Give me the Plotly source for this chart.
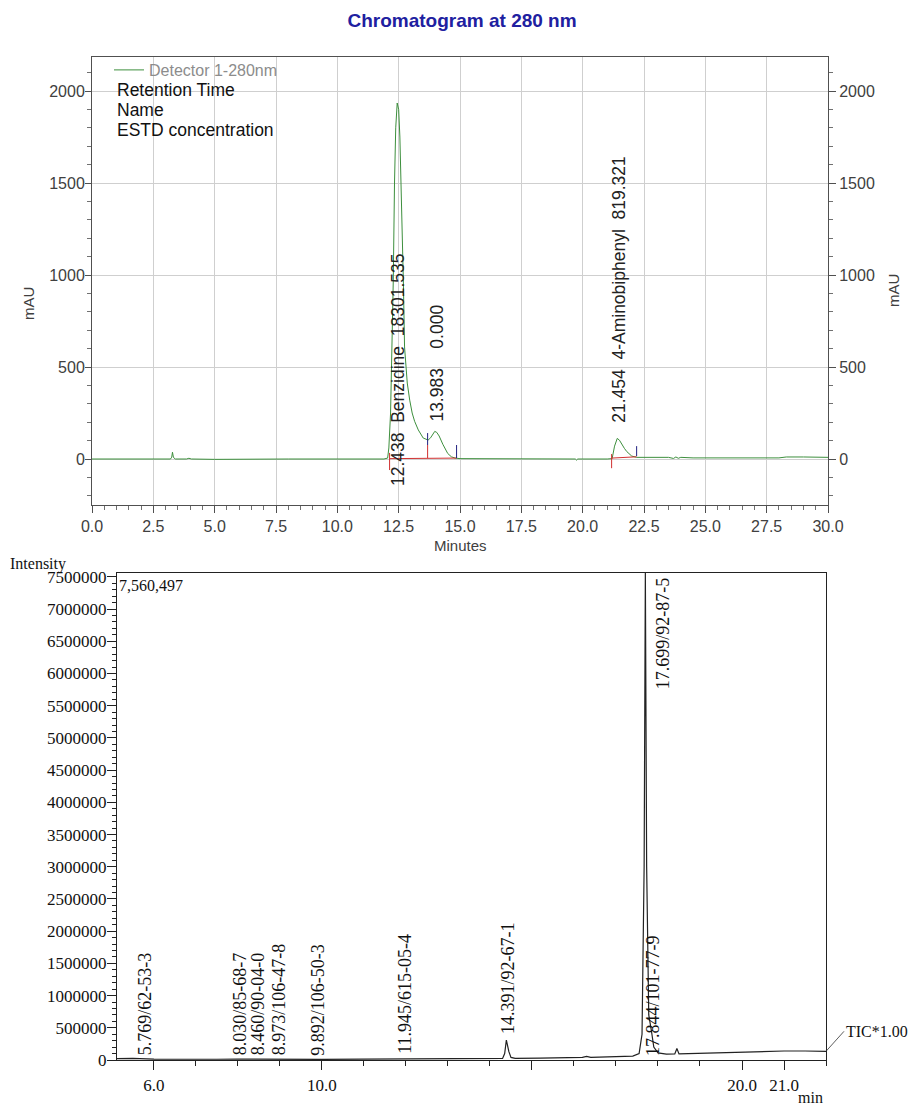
import plotly.graph_objects as go

# ---------------- DATA ----------------
# Top: HPLC chromatogram, Detector 1 at 280 nm (minutes, mAU)
uv_time = [0.0, 1.0, 1.1, 1.25, 1.45, 1.6, 2.35, 2.45, 2.55, 3.2, 3.25, 3.28, 3.32, 3.4, 3.85,
           3.95, 4.05, 5.0, 8.0, 10.0, 11.9, 12.05, 12.1, 12.17, 12.22, 12.28, 12.33, 12.38,
           12.44, 12.5, 12.55, 12.6, 12.65, 12.69, 12.74, 12.8, 12.85, 12.95, 13.05, 13.15,
           13.3, 13.5, 13.7, 13.8, 13.9, 13.97, 14.05, 14.15, 14.3, 14.4, 14.5, 14.65, 14.8,
           15.0, 17.0, 19.7, 19.75, 19.8, 21.0, 21.2, 21.3, 21.41, 21.5, 21.6, 21.7, 21.8,
           21.9, 22.0, 22.2, 23.5, 23.7, 23.8, 23.9, 24.0, 24.5, 26.3, 26.4, 26.5, 28.0, 28.3,
           28.7, 29.0, 30.0]
uv_mau = [0, 0, 3, 4, 3, 0, 0, 4, 0, 0, 10, 37, 8, 0, 0,
          4, 0, -2, 0, 0, 0, 5, 60, 250, 550, 970, 1500, 1800,
          1935, 1900, 1750, 1516, 1200, 973, 609, 500, 413, 320, 250, 205,
          158, 114, 103, 115, 138, 150, 145, 125, 80, 52, 30, 12, 5,
          2, 1, 0, -6, 0, 0, 2, 70, 112, 102, 78, 58, 40,
          26, 16, 9, 9, 3, 11, 4, 9, 6, 6, 2, 6, 6, 11,
          13, 11, 9]

# integration marks (minutes, mAU from, mAU to)
red_tick_x = [12.13, 13.68, 21.18]
red_tick_lo = [-60, 5, -50]
red_tick_hi = [33, 76, 27]
blue_tick_x = [13.68, 14.86, 22.2]
blue_tick_lo = [76, 5, 16]
blue_tick_hi = [141, 76, 70]
baseline_x = [[12.13, 14.86], [21.18, 22.2]]
baseline_y = [[2, 5], [5, 12]]

uv_peak_rt = [12.438, 13.983, 21.454]
uv_peak_text = ["12.438\u00a0\u00a0Benzidine\u00a0\u00a018301.535",
                "13.983\u00a0\u00a0\u00a0\u00a00.000",
                "21.454\u00a0\u00a04-Aminobiphenyl\u00a0\u00a0819.321"]
uv_label_base = [-160, 190, 185]

# Bottom: GC-MS total ion chromatogram (min, intensity)
tic_time = [5.12, 5.5, 6.0, 6.5, 7.0, 7.5, 8.0, 8.5, 9.0, 9.5, 10.0, 11.0, 12.0, 13.0, 14.3,
            14.35, 14.39, 14.45, 14.5, 14.6, 15.0, 15.1, 15.2, 16.2, 16.3, 16.4, 17.4, 17.55,
            17.62, 17.67, 17.699, 17.73, 17.78, 17.844, 17.9, 18.0, 18.2, 18.4, 18.45, 18.5,
            19.0, 20.0, 21.0, 21.5, 22.0]
tic_int = [22000, 25000, 15000, 12000, 10000, 12000, 15000, 12000, 10000, 10000, 10000, 15000,
           20000, 22000, 25000, 100000, 310000, 130000, 40000, 25000, 30000, 40000, 30000,
           40000, 55000, 40000, 60000, 100000, 400000, 3000000, 7560497, 3000000, 700000,
           450000, 200000, 110000, 90000, 95000, 180000, 95000, 105000, 125000, 140000,
           140000, 135000]

ms_rt = [5.769, 8.030, 8.460, 8.973, 9.892, 11.945, 14.391, 17.844]
ms_text = ["5.769/62-53-3", "8.030/85-68-7", "8.460/90-04-0", "8.973/106-47-8",
           "9.892/106-50-3", "11.945/615-05-4", "14.391/92-67-1", "17.844/101-77-9"]
ms_label_base = [40000, 40000, 40000, 40000, 40000, 60000, 380000, 30000]
top_peak_rt = 17.699
top_peak_text = "17.699/92-87-5"
tic_max = 7560497

uv_xticks = [0.0, 2.5, 5.0, 7.5, 10.0, 12.5, 15.0, 17.5, 20.0, 22.5, 25.0, 27.5, 30.0]
uv_yticks = [0, 500, 1000, 1500, 2000]
ms_xticks = [6, 10, 15, 20, 21]
ms_xticktext = ["6.0", "10.0", "", "20.0", "21.0"]
ms_yticks = [0, 500000, 1000000, 1500000, 2000000, 2500000, 3000000, 3500000, 4000000,
             4500000, 5000000, 5500000, 6000000, 6500000, 7000000, 7500000]

# ---------------- FIGURE ----------------
W, H = 915, 1105
SANS = "Arial, Liberation Sans, sans-serif"
SERIF = "Times New Roman, Liberation Serif, serif"

fig = go.Figure()

fig.add_trace(go.Scatter(x=uv_time, y=uv_mau, mode="lines", name="Detector 1-280nm",
                         line=dict(color="#3d8f3d", width=1), xaxis="x", yaxis="y",
                         showlegend=True))
# invisible copy to realise the right-hand axis
fig.add_trace(go.Scatter(x=uv_time, y=uv_mau, mode="lines", opacity=0, showlegend=False,
                         hoverinfo="skip", xaxis="x", yaxis="y2"))

rx, ry = [], []
for x, lo, hi in zip(red_tick_x, red_tick_lo, red_tick_hi):
    rx += [x, x, None]
    ry += [lo, hi, None]
for xs, ys in zip(baseline_x, baseline_y):
    rx += xs + [None]
    ry += ys + [None]
fig.add_trace(go.Scatter(x=rx, y=ry, mode="lines", line=dict(color="#d03030", width=1),
                         showlegend=False, hoverinfo="skip", xaxis="x", yaxis="y"))
bx, by = [], []
for x, lo, hi in zip(blue_tick_x, blue_tick_lo, blue_tick_hi):
    bx += [x, x, None]
    by += [lo, hi, None]
fig.add_trace(go.Scatter(x=bx, y=by, mode="lines", line=dict(color="#202080", width=1),
                         showlegend=False, hoverinfo="skip", xaxis="x", yaxis="y"))

fig.add_trace(go.Scatter(x=tic_time, y=tic_int, mode="lines", showlegend=False,
                         line=dict(color="#222222", width=1.2), xaxis="x2", yaxis="y3"))

def px_x(p):
    return p / W

def px_y(p):
    return 1 - p / H

top_x_dom = [px_x(92), px_x(828)]
top_y_dom = [px_y(505), px_y(57)]
bot_x_dom = [px_x(117), px_x(826)]
bot_y_dom = [px_y(1060), px_y(573)]

axis_font_top = dict(family=SANS, size=16, color="#404040")
axis_font_bot = dict(family=SERIF, size=17, color="#111111")

fig.update_layout(
    width=W, height=H,
    margin=dict(l=0, r=0, t=0, b=0),
    paper_bgcolor="white", plot_bgcolor="white",
    title=dict(text="<b>Chromatogram at 280 nm</b>", x=0.505, xanchor="center",
               y=px_y(20), yanchor="middle",
               font=dict(family=SANS, size=19, color="#2020a0")),
    showlegend=True,
    legend=dict(x=px_x(109), y=px_y(53), xanchor="left", yanchor="top",
                bgcolor="rgba(0,0,0,0)", itemwidth=30,
                font=dict(family=SANS, size=16, color="#8c8c8c")),
    xaxis=dict(domain=top_x_dom, anchor="y", range=[0, 30], tickvals=uv_xticks,
               tickformat=".1f", showgrid=True, gridcolor="#cfcfcf", gridwidth=1,
               showline=True, linecolor="#505050", mirror=True, ticks="outside",
               ticklen=7, tickcolor="#505050", tickfont=axis_font_top, zeroline=False,
               minor=dict(dtick=0.5, tick0=0, ticklen=4, ticks="outside",
                          tickcolor="#707070", showgrid=False),
               automargin=False),
    yaxis=dict(domain=top_y_dom, anchor="x", range=[-250, 2185], tickvals=uv_yticks,
               showgrid=True, gridcolor="#cfcfcf", gridwidth=1, showline=True,
               linecolor="#505050", mirror=True, ticks="outside", ticklen=6,
               ticklabelstandoff=-3,
               tickcolor="#505050", tickfont=axis_font_top, zeroline=False,
               minor=dict(dtick=100, tick0=0, ticklen=4, ticks="outside",
                          tickcolor="#707070", showgrid=False),
               automargin=False),
    yaxis2=dict(overlaying="y", anchor="x", side="right", range=[-250, 2185],
                tickvals=uv_yticks, showgrid=False, showline=False, ticks="outside",
                ticklen=7, tickcolor="#505050", tickfont=axis_font_top, zeroline=False,
                minor=dict(dtick=100, tick0=0, ticklen=4, ticks="outside",
                           tickcolor="#707070"),
                automargin=False),
    xaxis2=dict(domain=bot_x_dom, anchor="y3", range=[5.12, 22.0], tickvals=ms_xticks,
                ticktext=ms_xticktext, showgrid=False, showline=True, linecolor="#222222",
                linewidth=1.3, mirror=True, ticks="outside", ticklen=9,
                tickcolor="#222222", tickfont=axis_font_bot, zeroline=False,
                minor=dict(dtick=1, tick0=5, ticklen=5, ticks="outside",
                           tickcolor="#222222"),
                automargin=False),
    yaxis3=dict(domain=bot_y_dom, anchor="x2", range=[0, tic_max], tickvals=ms_yticks,
                tickformat="d", showgrid=False, showline=True, linecolor="#222222",
                linewidth=1.3, mirror=True, ticks="outside", ticklen=9,
                ticklabelstandoff=-3,
                tickcolor="#222222", tickfont=axis_font_bot, zeroline=False,
                minor=dict(dtick=100000, tick0=0, ticklen=4, ticks="outside",
                           tickcolor="#222222"),
                automargin=False),
)

ann = []
# top axis titles
ann.append(dict(text="Minutes", xref="paper", yref="paper", x=px_x(460), y=px_y(545),
                showarrow=False, font=dict(family=SANS, size=15, color="#404040")))
ann.append(dict(text="mAU", xref="paper", yref="paper", x=px_x(18), y=px_y(285),
                textangle=-90, showarrow=False, font=dict(family=SANS, size=15, color="#404040")))
ann.append(dict(text="mAU", xref="paper", yref="paper", x=px_x(904), y=px_y(272),
                textangle=-90, showarrow=False, font=dict(family=SANS, size=15, color="#404040")))
# legend info lines
for i, t in enumerate(["Retention Time", "Name", "ESTD concentration"]):
    ann.append(dict(text=t, xref="paper", yref="paper", x=px_x(115), y=px_y(90 + 20 * i),
                    xanchor="left", yanchor="middle", showarrow=False,
                    font=dict(family=SANS, size=17.5, color="#111111")))
# top peak labels
for rt, t, yb in zip(uv_peak_rt, uv_peak_text, uv_label_base):
    ann.append(dict(text=t, x=rt, y=yb, xref="x", yref="y", textangle=-90,
                    xanchor="center", yanchor="bottom", showarrow=False, xshift=1,
                    font=dict(family=SANS, size=17.5, color="#222222")))
# bottom labels
for rt, t, yb in zip(ms_rt, ms_text, ms_label_base):
    ann.append(dict(text=t, x=rt, y=yb, xref="x2", yref="y3", textangle=-90,
                    xanchor="center", yanchor="bottom", showarrow=False, xshift=1,
                    font=dict(family=SERIF, size=18, color="#111111")))
ann.append(dict(text=top_peak_text, x=top_peak_rt, y=tic_max, xref="x2", yref="y3",
                textangle=-90, xanchor="left", yanchor="top", showarrow=False, xshift=6,
                yshift=-2, font=dict(family=SERIF, size=18, color="#111111")))
ann.append(dict(text=f"{tic_max:,}", x=5.12, y=tic_max, xref="x2", yref="y3",
                xanchor="left", yanchor="top", showarrow=False, xshift=0, yshift=-2,
                font=dict(family=SERIF, size=16, color="#111111")))
ann.append(dict(text="TIC*1.00", x=tic_time[-1], y=tic_int[-1], xref="x2", yref="y3",
                xanchor="left", yanchor="middle", showarrow=True, arrowhead=0,
                arrowwidth=0.8, arrowcolor="#333333", ax=18, ay=-20,
                font=dict(family=SERIF, size=16, color="#111111")))
ann.append(dict(text="Intensity", xref="paper", yref="paper", x=px_x(8), y=px_y(564),
                xanchor="left", yanchor="middle", showarrow=False,
                font=dict(family=SERIF, size=16, color="#111111")))
ann.append(dict(text="min", xref="paper", yref="paper", x=px_x(810), y=px_y(1097),
                xanchor="center", yanchor="middle", showarrow=False,
                font=dict(family=SERIF, size=16, color="#111111")))

fig.update_layout(annotations=ann)
fig.write_html("out.html")
